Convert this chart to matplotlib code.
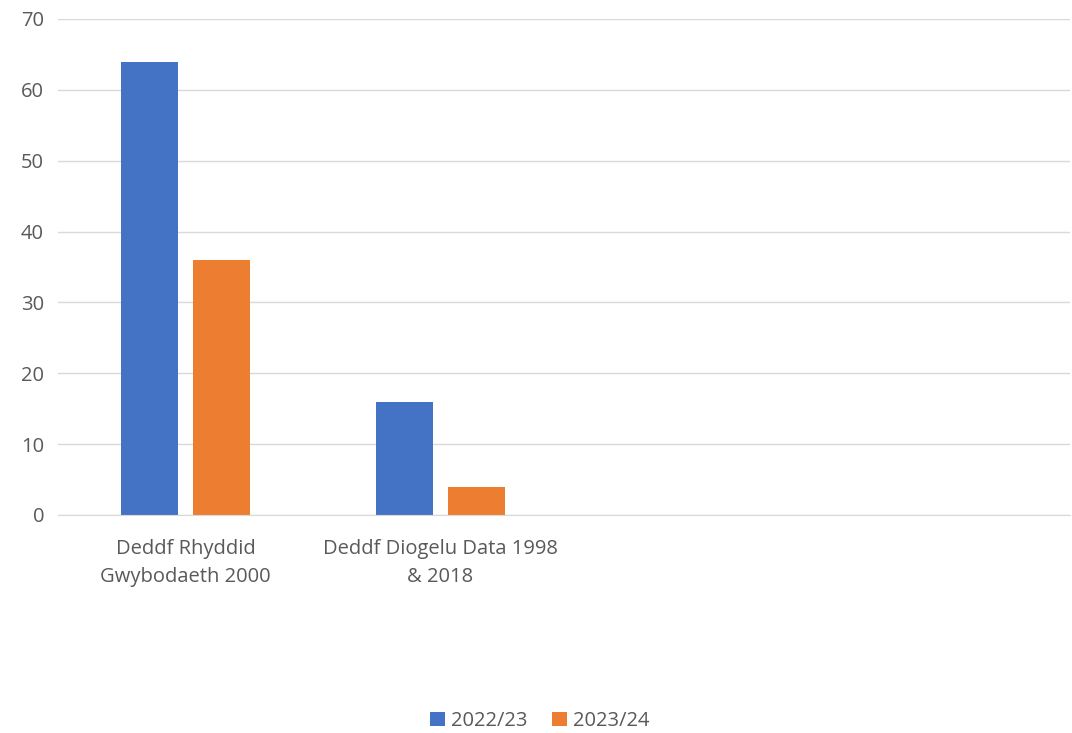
import matplotlib
matplotlib.use("Agg")
import matplotlib.pyplot as plt
import numpy as np

categories = ["Deddf Rhyddid\nGwybodaeth 2000", "Deddf Diogelu Data 1998\n& 2018", "", ""]
series_names = ["2022/23", "2023/24"]
values_2223 = [64, 16, 0, 0]
values_2324 = [36, 4, 0, 0]
yticks = [0, 10, 20, 30, 40, 50, 60, 70]

plt.rcParams['font.family'] = ['Open Sans', 'DejaVu Sans']

fig = plt.figure(figsize=(10.72, 7.33), dpi=100)
ax = fig.add_axes([58/1072, (733-515)/733, (1070-58)/1072, (515-19)/733])

x = np.arange(len(categories))
w = 0.224
off = 0.142
ax.bar(x - off, values_2223, width=w, color="#4472C4", label=series_names[0], zorder=3)
ax.bar(x + off, values_2324, width=w, color="#ED7D31", label=series_names[1], zorder=3)

ax.set_xlim(-0.5, (1070 - 185) / 255)
ax.set_ylim(0, 70)
ax.set_yticks(yticks)
ax.set_xticks(x)
ax.set_xticklabels(categories, fontsize=14.5, color="#595959", linespacing=1.55)
ax.tick_params(axis='y', labelsize=14.5, labelcolor="#595959", length=0, pad=10)
ax.tick_params(axis='x', length=0, pad=17)
ax.grid(axis='y', color="#D9D9D9", linewidth=1, zorder=0)
for s in ['top', 'right', 'left']:
    ax.spines[s].set_visible(False)
ax.spines['bottom'].set_color("#D9D9D9")
ax.spines['bottom'].set_zorder(4)

leg = fig.legend(loc='center', bbox_to_anchor=(540/1072, 1 - 721/733), ncol=2, frameon=False,
                 fontsize=14.5, handlelength=0.75, handleheight=0.75, handletextpad=0.3, columnspacing=1.2)
for t in leg.get_texts():
    t.set_color("#595959")

fig.savefig("out.png", dpi=100)
